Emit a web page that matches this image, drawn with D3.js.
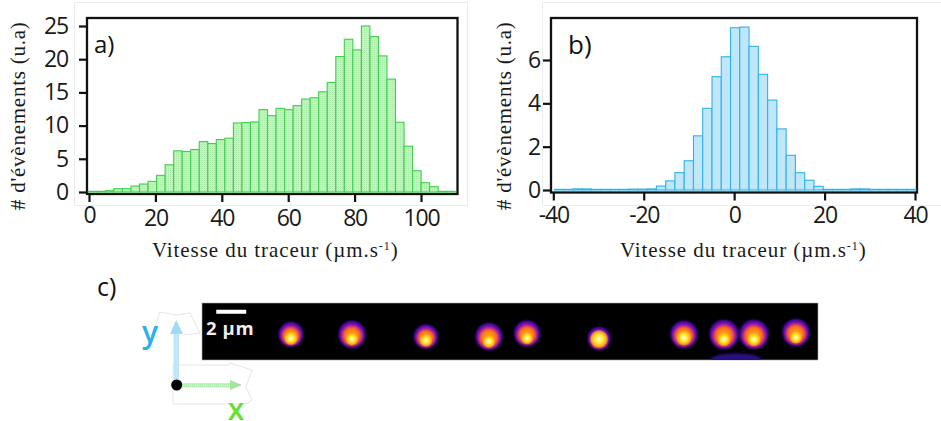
<!DOCTYPE html>
<html><head><meta charset="utf-8">
<script src="https://cdn.jsdelivr.net/npm/d3@7"></script>
<style>
html,body{margin:0;padding:0;background:#fff}
svg{display:block}
.tick text{font-family:"Open Sans",sans-serif;fill:#1a1a1a}
</style></head><body>
<svg id="c" width="941" height="421"></svg>
<script>
// Panel a: bin counts, first bin edge and bin width in velocity units
const speedBinStart = -0.2, speedBinWidth = 2.57;
const speedCounts = [0.1,0.1,0.2,0.5,0.5,0.9,1.2,1.6,2.5,4.1,6.2,6.1,6.4,7.6,7.3,7.9,8.1,10.4,10.45,10.55,12.4,11.5,12.6,12.4,13,14,14.2,15.1,16.5,20.4,23,21.4,25,23.4,20.5,17,10.5,6.9,3.2,1.4,0.8,0.1,0.1];
const speedXTicks = [0,20,40,60,80,100];
const speedYTicks = [0,5,10,15,20,25];
// Panel b
const transBinStart = -39.75, transBinWidth = 2.05;
const transCounts = [0.03,0.03,0.05,0.05,0.03,0.03,0.03,0.03,0.04,0.04,0.05,0.18,0.42,0.8,1.35,2.5,3.77,5.23,6.15,7.49,7.52,6.63,5.34,4.15,2.82,1.6,0.8,0.45,0.17,0.03,0.03,0.03,0.05,0.05,0.03,0.03,0.03,0.03,0.03];
const transXTicks = [-40,-20,0,20,40];
const transYTicks = [0,2,4,6];
// Panel c: tracer spots in micrometres from the top-left of the frame
const spotX = [5.93,10,14.93,19.13,21.67,26.47,32.13,34.8,36.8,39.6];
const spotY = [2.13,2.13,2.27,2.27,2.07,2.4,2.13,2.13,2.13,2.0];
const spotR = [0.82,0.9,0.8,0.9,0.86,0.76,0.9,0.97,0.97,0.9];
const spotHot = [0.95,0.8,0.9,0.8,0.8,1.35,0.95,0.8,0.8,0.78];
const spotDrop = [0.22,0.28,0.22,0.3,0.28,0,0.2,0.3,0.3,0.3];

const svg = d3.select("#c");
const defs = svg.append("defs");
function dots(id, base, dot){
  const p = defs.append("pattern").attr("id",id).attr("width",2).attr("height",2).attr("patternUnits","userSpaceOnUse");
  p.append("rect").attr("width",2).attr("height",2).attr("fill",base);
  p.append("rect").attr("width",1).attr("height",1).attr("fill",dot);
}
dots("gp","#c6f2c6","#a9e8a9");
const serif = '"Liberation Serif",serif', sans = '"Open Sans",sans-serif';
const fmt = d => String(d);

function panel(o){
  const x = d3.scaleLinear().domain(o.xd).range(o.xr);
  const y = d3.scaleLinear().domain(o.yd).range(o.yr);
  const f = o.frame;
  svg.append("rect").attr("x",o.outer[0]).attr("y",o.outer[1]).attr("width",o.outer[2]).attr("height",o.outer[3])
    .attr("fill","none").attr("stroke","#ececec").attr("stroke-width",1);
  svg.append("rect").attr("x",f[0]).attr("y",f[1]).attr("width",f[2]-f[0]).attr("height",f[3]-f[1])
    .attr("fill","none").attr("stroke","#111").attr("stroke-width",2.3);
  const bars = d3.range(o.counts.length).map(i=>({a:o.start+i*o.width,b:o.start+(i+1)*o.width,v:o.counts[i]}));
  svg.append("g").selectAll("rect").data(bars).join("rect")
    .attr("x",d=>x(d.a)).attr("width",d=>x(d.b)-x(d.a))
    .attr("y",d=>y(d.v)).attr("height",d=>y(0)-y(d.v))
    .attr("fill",o.fill).attr("stroke",o.stroke).attr("stroke-width",1.1);
  const ax = svg.append("g").attr("transform",`translate(0,${f[3]})`)
    .call(d3.axisBottom(x).tickValues(o.xt).tickSize(8).tickPadding(o.xpad).tickFormat(fmt));
  const ay = svg.append("g").attr("transform",`translate(${f[0]},0)`)
    .call(d3.axisLeft(y).tickValues(o.yt).tickSize(8).tickPadding(o.ypad).tickFormat(fmt));
  [ax,ay].forEach(g=>{
    g.select(".domain").remove();
    g.selectAll(".tick line").attr("stroke","#111").attr("stroke-width",2.2);
    g.selectAll(".tick text").style("font-size",o.fs+"px").style("letter-spacing","-1.2px");
  });
  if(o.rawZero) ax.selectAll(".tick text").filter(d=>d===0).attr("dy","0.55em");
  const t = svg.append("text").attr("x",o.tx).attr("y",257).attr("font-family",serif).attr("font-size",21)
    .attr("letter-spacing",o.ls).attr("fill","#1a1a1a");
  t.append("tspan").text("Vitesse du traceur (µm.s");
  t.append("tspan").attr("dy",-7).attr("font-size",12).text("-1");
  t.append("tspan").attr("dy",7).text(")");
  svg.append("text").attr("transform",`translate(${o.yx},210) rotate(-90)`).attr("font-family",serif)
    .attr("font-size",21).attr("letter-spacing",o.yls).attr("fill","#1a1a1a").text("# d'évènements (u.a)");
  svg.append("text").attr("x",o.lab[0]).attr("y",o.lab[1]).attr("font-family",sans).attr("font-size",o.lab[2])
    .attr("fill","#111").text(o.lab[3]);
}

panel({counts:speedCounts,start:speedBinStart,width:speedBinWidth,
  xd:[0,100],xr:[89,421],yd:[0,25],yr:[192,26],xt:speedXTicks,yt:speedYTicks,
  frame:[87,18,457.5,194],outer:[74.5,2.5,393,203],fill:"url(#gp)",stroke:"#3fd04a",
  fs:23,xpad:8,ypad:11,rawZero:true,tx:152,ls:0.93,yls:0.75,yx:25,lab:[94,53,24,"a)"]});
panel({counts:transCounts,start:transBinStart,width:transBinWidth,
  xd:[-40,40],xr:[553.3,915],yd:[0,6],yr:[190,60],xt:transXTicks,yt:transYTicks,
  frame:[551,18,917,192.5],outer:[542.5,2.5,420,203],fill:"#bfe7f9",stroke:"#2fb3ea",
  fs:23,xpad:6,ypad:3,rawZero:false,tx:620,ls:0.93,yls:0.75,yx:511,lab:[568,54,26,"b)"]});

// Panel c image strip
const um = d3.scaleLinear().domain([0,41.07]).range([202,818]);
const umY = d3.scaleLinear().domain([0,3.8]).range([303,360]);
const k = um(1)-um(0);
defs.append("clipPath").attr("id","strip").append("rect").attr("x",um(0)).attr("y",umY(0)).attr("width",um(41.07)-um(0)).attr("height",umY(3.8)-umY(0));
defs.append("filter").attr("id","soft").append("feGaussianBlur").attr("stdDeviation",0.8);
defs.append("filter").attr("id","soft2").append("feGaussianBlur").attr("stdDeviation",1.1);
function grad(id,stops){
  const g = defs.append("radialGradient").attr("id",id);
  stops.forEach(s=>g.append("stop").attr("offset",s[0]).attr("stop-color",s[1]).attr("stop-opacity",s[2]===undefined?1:s[2]));
}
grad("halo",[[0,"#7a10b0"],[.78,"#6a12c0"],[1,"#3a0ca0"]]);
grad("body",[[0,"#ffa810"],[.62,"#fa8216"],[.86,"#e8304a"],[1,"#b010a0"]]);
grad("hot",[[0,"#fffcc8"],[.45,"#ffe838"],[.8,"#ffc014",.7],[1,"#ffb010",0]]);
svg.append("rect").attr("x",um(0)).attr("y",umY(0)).attr("width",um(41.07)-um(0)).attr("height",umY(3.8)-umY(0))
  .attr("fill","#000").attr("stroke","#aaa").attr("stroke-width",.6);
const strip = svg.append("g").attr("clip-path","url(#strip)");
strip.append("ellipse").attr("cx",um(35.6)).attr("cy",umY(3.75)).attr("rx",k*1.7).attr("ry",k*0.4).attr("fill","#2a0a80").attr("filter","url(#soft2)");
const sx = (d,i)=>um(d), sy = i=>umY(spotY[i]);
strip.append("g").selectAll("circle").data(spotX).join("circle")
  .attr("cx",sx).attr("cy",(d,i)=>sy(i)-k*0.04).attr("r",(d,i)=>spotR[i]*k)
  .attr("fill","url(#halo)").attr("filter","url(#soft2)");
strip.append("g").selectAll("circle").data(spotX).join("circle")
  .attr("cx",sx).attr("cy",(d,i)=>sy(i)+k*0.05).attr("r",(d,i)=>spotR[i]*k*0.8)
  .attr("fill","url(#body)").attr("filter","url(#soft)");
strip.append("g").selectAll("circle").data(spotX).join("circle")
  .attr("cx",sx).attr("cy",(d,i)=>sy(i)+k*spotDrop[i]).attr("r",(d,i)=>spotR[i]*k*0.62*spotHot[i])
  .attr("fill","url(#hot)");
svg.append("rect").attr("x",um(0.95)).attr("y",umY(0.45)).attr("width",um(2)-um(0)).attr("height",4).attr("fill","#fff");
svg.append("text").attr("x",206).attr("y",335).attr("font-family",sans).attr("font-weight",700).attr("font-size",18.5).attr("letter-spacing",0.6).attr("fill","#eee").text("2 µm");
svg.append("text").attr("x",97).attr("y",296).attr("font-family",sans).attr("font-size",25).attr("fill","#111").text("c)");

// Axis glyph
const faint = svg.append("g").attr("fill","none").attr("stroke","#e6e6e6").attr("stroke-width",1);
faint.append("path").attr("d","M155,327L160,312L176,315L190,313L200,333L183,335");
faint.append("path").attr("d","M173,365H228L230,363L252,370L246,387L252,400L246,404H173Z");
svg.append("rect").attr("x",173.5).attr("y",331).attr("width",5.5).attr("height",50).attr("fill","#bfe6fa");
svg.append("path").attr("d","M176.2,320L183,334H170Z").attr("fill","#9fd9f6");
svg.append("rect").attr("x",180).attr("y",383).attr("width",51).attr("height",4.5).attr("fill","url(#gp)");
svg.append("path").attr("d","M242,385L230,380V390Z").attr("fill","#a2e6a2");
svg.append("circle").attr("cx",176.7).attr("cy",385).attr("r",5.5).attr("fill","#000");
svg.append("text").attr("x",150).attr("y",343).attr("text-anchor","middle").attr("font-family",sans).attr("font-weight",600).attr("font-size",30).attr("fill","#2bb0e8").text("y");
svg.append("text").attr("x",236).attr("y",420).attr("text-anchor","middle").attr("font-family",sans).attr("font-weight",600).attr("font-size",30).attr("fill","#66e033").text("x");
</script>
</body></html>
